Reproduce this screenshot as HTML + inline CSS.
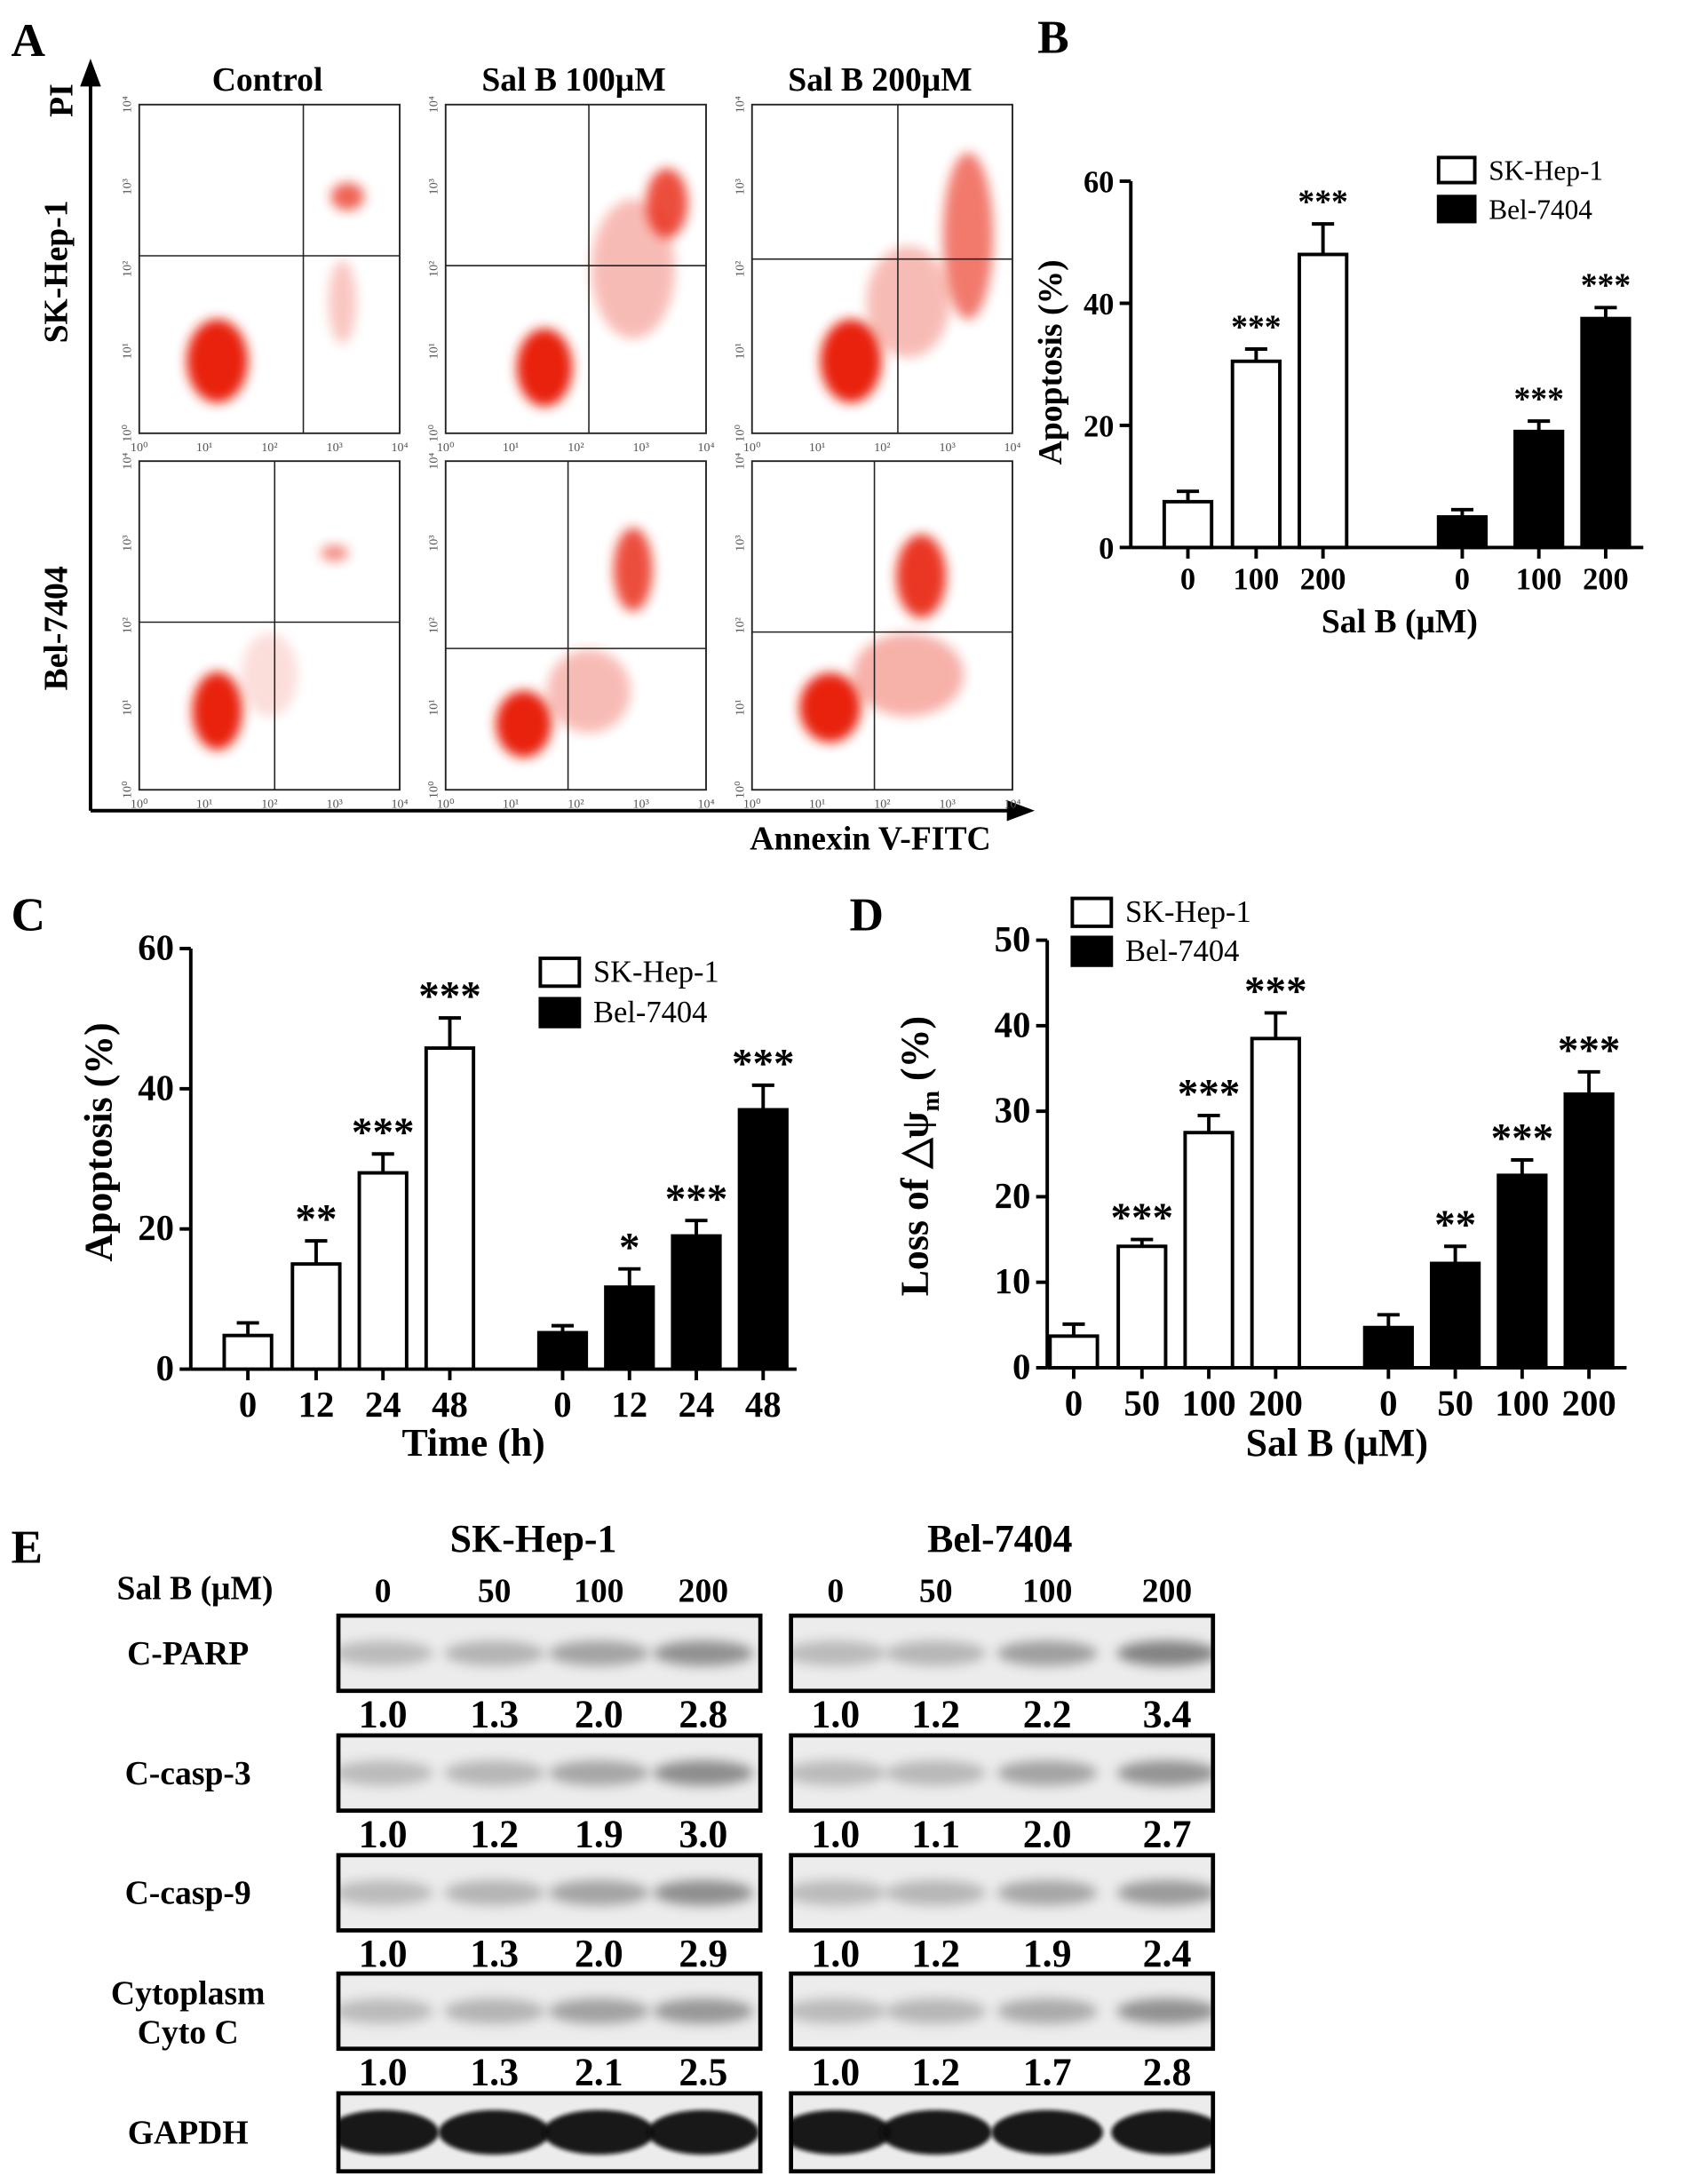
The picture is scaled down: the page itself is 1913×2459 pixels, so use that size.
<!DOCTYPE html>
<html><head><meta charset="utf-8"><style>
html,body{margin:0;padding:0;background:#fff}
svg{display:block}
text{font-family:"Liberation Serif",serif;font-weight:bold;fill:#000}
</style></head><body>
<svg id="fig" width="1913" height="2459" viewBox="0 0 1220 1568" xmlns="http://www.w3.org/2000/svg">
<defs id="defs">
<filter id="blur" x="-50%" y="-50%" width="200%" height="200%"><feGaussianBlur stdDeviation="4"/></filter>
<filter id="blur2" x="-50%" y="-50%" width="200%" height="200%"><feGaussianBlur stdDeviation="1.5"/></filter>
<marker id="arr" markerWidth="8" markerHeight="8" refX="4" refY="4" orient="auto"><path d="M0,1 L8,4 L0,7 z" fill="#000"/></marker>
</defs>
<g id="panelA"></g>
<g id="panelB"></g>
<g id="panelC"></g>
<g id="panelD"></g>
<g id="panelE"></g>
</svg>
<script>
// ---- Panel B data
const bCats=["0","100","200","0","100","200"];
const bSK=[7.5,30.5,48];
const bBel=[5,19,37.5];
const bSKerr=[1.7,2,5];
const bBelerr=[1.2,1.7,1.8];
const bSKstars=["","***","***"];
const bBelstars=["","***","***"];
const bTicks=[0,20,40,60];
// ---- Panel C data
const cCats=["0","12","24","48","0","12","24","48"];
const cSK=[4.8,15,28,45.8];
const cBel=[5.2,11.7,19,37];
const cSKerr=[1.8,3.3,2.7,4.3];
const cBelerr=[1,2.6,2.2,3.5];
const cSKstars=["","**","***","***"];
const cBelstars=["","*","***","***"];
const cTicks=[0,20,40,60];
// ---- Panel D data
const dCats=["0","50","100","200","0","50","100","200"];
const dSK=[3.7,14.2,27.5,38.5];
const dBel=[4.7,12.2,22.5,32];
const dSKerr=[1.4,0.8,2,3];
const dBelerr=[1.5,2,1.8,2.6];
const dSKstars=["","***","***","***"];
const dBelstars=["","**","***","***"];
const dTicks=[0,10,20,30,40,50];
// ---- Panel E data
const eRows=["C-PARP","C-casp-3","C-casp-9","Cytoplasm Cyto C","GAPDH"];
const eSK=[[1.0,1.3,2.0,2.8],[1.0,1.2,1.9,3.0],[1.0,1.3,2.0,2.9],[1.0,1.3,2.1,2.5]];
const eBel=[[1.0,1.2,2.2,3.4],[1.0,1.1,2.0,2.7],[1.0,1.2,1.9,2.4],[1.0,1.2,1.7,2.8]];
const eDoses=["0","50","100","200"];

const NS="http://www.w3.org/2000/svg";
function el(p,tag,attrs,txt){const e=document.createElementNS(NS,tag);for(const k in attrs)e.setAttribute(k,attrs[k]);if(txt!==undefined)e.textContent=txt;p.appendChild(e);return e;}

// ---------- Panel A
const A=document.getElementById('panelA');
let t=el(A,'text',{x:8,y:40,'font-size':34},'A');


el(A,'line',{x1:65,y1:582,x2:65,y2:52,stroke:'#000','stroke-width':2.5,'marker-end':'url(#arr)'});
el(A,'line',{x1:65,y1:582,x2:733,y2:582,stroke:'#000','stroke-width':2.5,'marker-end':'url(#arr)'});
t=el(A,'text',{x:0,y:0,'font-size':24,transform:'translate(52,72) rotate(-90)','text-anchor':'middle'},'PI');


t=el(A,'text',{x:625,y:610,'font-size':24,'text-anchor':'middle'},'Annexin V-FITC');


const colT=["Control","Sal B 100μM","Sal B 200μM"],colX=[100,320,540];
colT.forEach((s,i)=>{const e=el(A,'text',{x:colX[i]+92,y:65,'font-size':24,'text-anchor':'middle'},s);

});
const rowT=["SK-Hep-1","Bel-7404"],aRowY=[75,331];
rowT.forEach((s,i)=>{const e=el(A,'text',{x:0,y:0,'font-size':24,'text-anchor':'middle',transform:`translate(48,${aRowY[i]+120}) rotate(-90)`},s);

});
const gates=[[[0.63,0.46],[0.55,0.49],[0.56,0.47]],[[0.52,0.49],[0.47,0.57],[0.47,0.52]]];
const clusters=[
 [[[0.3,0.78,22,30,1],[0.8,0.28,12,10,0.7],[0.78,0.6,10,30,0.25]],
  [[0.38,0.8,20,28,1],[0.85,0.3,15,25,0.8],[0.72,0.5,30,50,0.3]],
  [[0.38,0.78,22,30,1],[0.83,0.4,18,60,0.6],[0.6,0.6,30,40,0.3]]],
 [[[0.3,0.76,18,28,1],[0.75,0.28,10,6,0.5],[0.5,0.65,20,30,0.15]],
  [[0.3,0.8,20,24,1],[0.72,0.33,14,30,0.8],[0.55,0.7,30,30,0.3]],
  [[0.3,0.75,22,25,1],[0.65,0.35,18,30,0.9],[0.6,0.65,40,30,0.35]]]];
const sup=['⁰','¹','²','³','⁴'];
for(let r=0;r<2;r++)for(let c=0;c<3;c++){
 const x0=colX[c],y0=aRowY[r],w=187,h=236;
 const g=el(A,'g',{});
 
 
 el(g,'rect',{x:x0,y:y0,width:w,height:h,fill:'#fff',stroke:'#222','stroke-width':1.2});
 clusters[r][c].forEach(k=>{el(g,'ellipse',{cx:x0+k[0]*w,cy:y0+k[1]*h,rx:k[2],ry:k[3],fill:'#e8200c',opacity:k[4],filter:'url(#blur)'});});
 const [gx,gy]=gates[r][c];
 el(g,'line',{x1:x0+gx*w,y1:y0,x2:x0+gx*w,y2:y0+h,stroke:'#222','stroke-width':1});
 el(g,'line',{x1:x0,y1:y0+gy*h,x2:x0+w,y2:y0+gy*h,stroke:'#222','stroke-width':1});
 for(let i=0;i<5;i++){
  el(g,'text',{x:x0+i*w/4,y:y0+h+13,'font-size':9,'text-anchor':'middle',style:'font-weight:normal;fill:#555'},'10'+sup[i]);
  el(g,'text',{x:0,y:0,'font-size':9,'text-anchor':'middle',style:'font-weight:normal;fill:#555',transform:`translate(${x0-6},${y0+h-i*h/4}) rotate(-90)`},'10'+sup[i]);
 }
}

// ---------- bar chart helper
function barChart(G,o){
 const ys=v=>o.y0-(v/o.ymax)*(o.y0-o.y1);
 el(G,'line',{x1:o.ax,y1:o.y1,x2:o.ax,y2:o.y0,stroke:'#000','stroke-width':2.5});
 el(G,'line',{x1:o.ax,y1:o.y0,x2:o.axEnd,y2:o.y0,stroke:'#000','stroke-width':2.5});
 o.ticks.forEach(v=>{el(G,'line',{x1:o.ax-8,y1:ys(v),x2:o.ax,y2:ys(v),stroke:'#000','stroke-width':2.5});
  const e=el(G,'text',{x:o.ax-12,y:ys(v)+8,'font-size':o.fs,'text-anchor':'end'},v);
  
  });
 const series=[[o.sk,o.ske,o.sks,'#fff'],[o.bel,o.bele,o.bels,'#000']];
 let idx=0;
 series.forEach((s,si)=>{s[0].forEach((v,i)=>{
  const cx=o.xs[idx];
  el(G,'line',{x1:cx,y1:ys(v),x2:cx,y2:ys(v+s[1][i]),stroke:'#000','stroke-width':2.5});
  el(G,'line',{x1:cx-8,y1:ys(v+s[1][i]),x2:cx+8,y2:ys(v+s[1][i]),stroke:'#000','stroke-width':2.5});
  const b=el(G,'rect',{x:cx-o.bw/2,y:ys(v),width:o.bw,height:o.y0-ys(v),fill:s[3],stroke:'#000','stroke-width':2.5});
  
  
  if(s[2][i]){const e=el(G,'text',{x:cx,y:ys(v+s[1][i])+o.starOff,'font-size':o.sfs,'text-anchor':'middle','font-family':'Liberation Sans'},s[2][i]);
   
   }
  el(G,'line',{x1:cx,y1:o.y0,x2:cx,y2:o.y0+8,stroke:'#000','stroke-width':2.5});
  const e=el(G,'text',{x:cx,y:o.y0+o.lblOff,'font-size':o.fs,'text-anchor':'middle'},o.cats[idx]);
  
  
  idx++;});});
 let e=el(G,'text',{x:o.xt[0],y:o.xt[1],'font-size':o.tfs,'text-anchor':'middle'},o.xtitle);
 
 
 e=el(G,'text',{x:0,y:0,'font-size':o.tfs,'text-anchor':'middle',transform:`translate(${o.yt[0]},${o.yt[1]}) rotate(-90)`});
 e.innerHTML=o.ytitle;
 
 
 [['SK-Hep-1','#fff'],['Bel-7404','#000']].forEach((L,i)=>{
  const lg=el(G,'g',{});
  
  
  el(lg,'rect',{x:o.lg[0],y:o.lg[1]+i*o.lg[2]-o.lg[3]/2,width:o.lg[4],height:o.lg[3],fill:L[1],stroke:'#000','stroke-width':2.5});
  el(lg,'text',{x:o.lg[0]+o.lg[4]+10,y:o.lg[1]+i*o.lg[2]+7,'font-size':o.lfs,style:'font-weight:normal'},L[0]);
 });
 e=el(G,'text',{x:o.lab[0],y:o.lab[1],'font-size':34},o.label);
 
 
}
barChart(document.getElementById('panelB'),{ax:812,axEnd:1180,y0:393,y1:130,ymax:60,ticks:bTicks,fs:22,sfs:24,tfs:24,lfs:20,
 xs:[853,902,950,1050,1105,1153],bw:34,sk:bSK,ske:bSKerr,sks:bSKstars,bel:bBel,bele:bBelerr,bels:bBelstars,cats:bCats,lblOff:30,starOff:-8,
 xtitle:'Sal B (μM)',xt:[1005,454],ytitle:'Apoptosis (%)',yt:[762,260],lg:[1033,122,28,18,26],label:'B',lab:[745,38]});
barChart(document.getElementById('panelC'),{ax:137,axEnd:572,y0:983,y1:681,ymax:60,ticks:cTicks,fs:26,sfs:30,tfs:28,lfs:22,
 xs:[178,227,275,323,404,452,500,548],bw:34,sk:cSK,ske:cSKerr,sks:cSKstars,bel:cBel,bele:cBelerr,bels:cBelstars,cats:cCats,lblOff:34,starOff:-6,
 xtitle:'Time (h)',xt:[340,1045],ytitle:'Apoptosis (%)',yt:[80,820],lg:[388,698,29,20,28],label:'C',lab:[8,668]});
barChart(document.getElementById('panelD'),{ax:752,axEnd:1168,y0:982,y1:675,ymax:50,ticks:dTicks,fs:26,sfs:30,tfs:28,lfs:22,
 xs:[771,820,868,916,997,1045,1093,1141],bw:34,sk:dSK,ske:dSKerr,sks:dSKstars,bel:dBel,bele:dBelerr,bels:dBelstars,cats:dCats,lblOff:34,starOff:-6,
 xtitle:'Sal B (μM)',xt:[960,1045],ytitle:'Loss of △ψ<tspan font-size="18" dy="8">m</tspan><tspan dy="-8"> (%)</tspan>',yt:[666,830],lg:[770,655,28,20,28],label:'D',lab:[610,668]});

// ---------- Panel E
const E=document.getElementById('panelE');
const DEFS=document.getElementById('defs');
t=el(E,'text',{x:8,y:1122,'font-size':34},'E');


t=el(E,'text',{x:383,y:1114,'font-size':28,'text-anchor':'middle'},'SK-Hep-1');


t=el(E,'text',{x:718,y:1114,'font-size':28,'text-anchor':'middle'},'Bel-7404');


t=el(E,'text',{x:140,y:1148,'font-size':24,'text-anchor':'middle'},'Sal B (μM)');


const laneL=[275,355,430,505],laneR=[600,672,752,838];
eDoses.forEach((d,i)=>{el(E,'text',{x:laneL[i],y:1150,'font-size':24,'text-anchor':'middle'},d);el(E,'text',{x:laneR[i],y:1150,'font-size':24,'text-anchor':'middle'},d);});
const eRowY=[1160,1246,1332,1417,1503];
let cid=0;
eRows.forEach((name,r)=>{
 const y=eRowY[r],h=r==4?56:54;
 if(r==3){el(E,'text',{x:135,y:y+22,'font-size':24,'text-anchor':'middle'},'Cytoplasm');el(E,'text',{x:135,y:y+50,'font-size':24,'text-anchor':'middle'},'Cyto C');}
 else el(E,'text',{x:135,y:y+h/2+8,'font-size':24,'text-anchor':'middle'},name);
 [[243,laneL,eSK],[568,laneR,eBel]].forEach(([bx,lanes,vals])=>{
  const cp=el(DEFS,'clipPath',{id:'cp'+cid});
  el(cp,'rect',{x:bx,y:y,width:303,height:h});
  const g=el(E,'g',{'clip-path':'url(#cp'+cid+')'});
  cid++;
  
  
  el(g,'rect',{x:bx,y:y,width:303,height:h,fill:'#ececec'});
  lanes.forEach((lx,i)=>{
   let op,ry,rx=36;
   if(r==4){op=0.95;ry=16;rx=40;}else{const v=vals[r][i];op=Math.min(0.15+v*0.14,0.7);ry=9;}
   el(g,'ellipse',{cx:lx,cy:y+h/2,rx:rx,ry:ry,fill:r==4?'#111':'#444',opacity:op,filter:r==4?'url(#blur2)':'url(#blur)'});
   if(r<4){const e=el(E,'text',{x:lx,y:y+h+26,'font-size':28,'text-anchor':'middle'},vals[r][i].toFixed(1));
    
    }
  });
  el(E,'rect',{x:bx,y:y,width:303,height:h,fill:'none',stroke:'#000','stroke-width':3});
 });
});
</script>
</body></html>
